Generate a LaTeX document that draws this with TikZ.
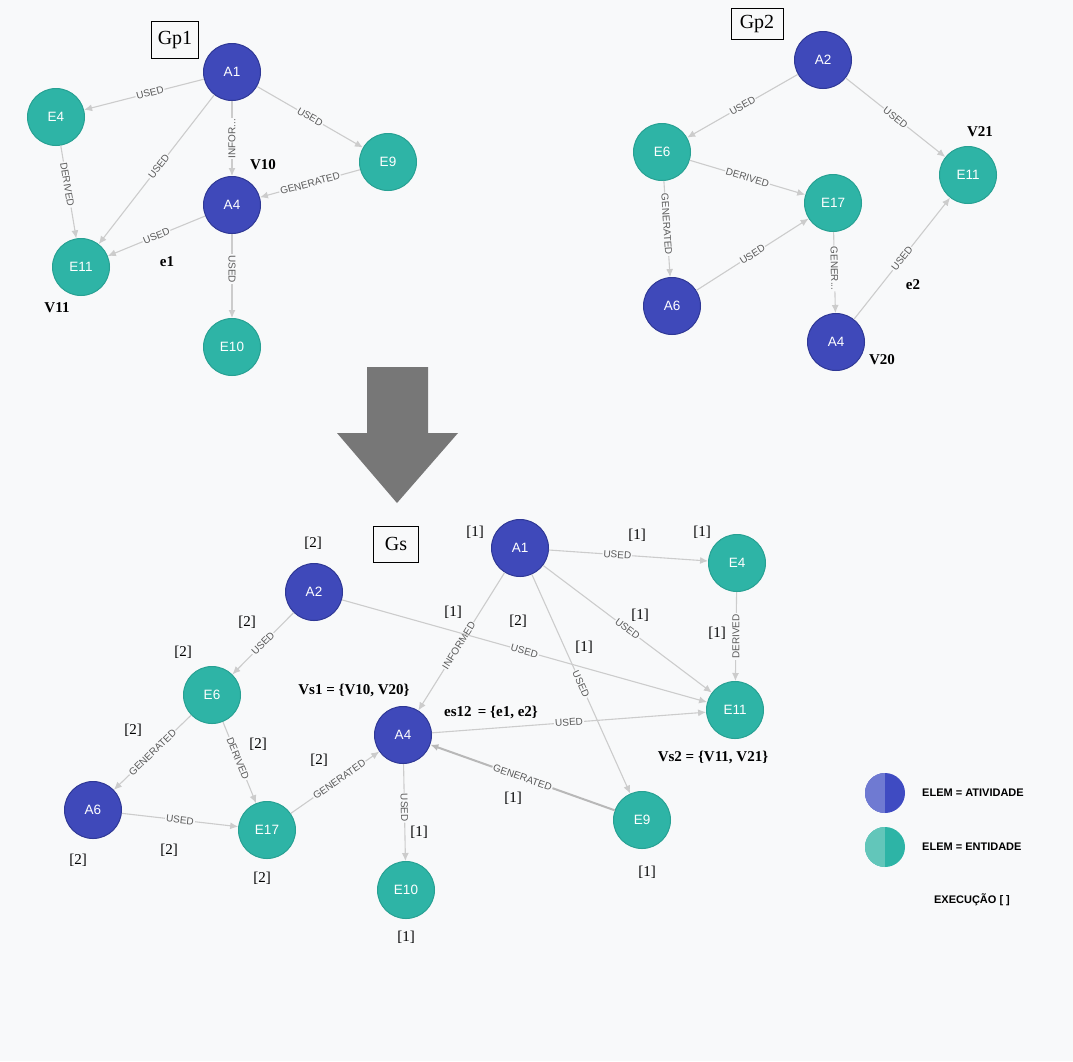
\documentclass[tikz,border=0pt]{standalone}
\usepackage{fontspec}
\setmainfont{Liberation Serif}
\setsansfont{Liberation Sans}
\usetikzlibrary{arrows.meta}
\definecolor{bg}{HTML}{F8F9FA}
\definecolor{actfill}{HTML}{3F49BA}
\definecolor{actline}{HTML}{2F3896}
\definecolor{entfill}{HTML}{2EB4A6}
\definecolor{entline}{HTML}{27A193}
\definecolor{edgecol}{HTML}{CCCCCC}
\definecolor{lblcol}{HTML}{5A5A5A}
\definecolor{bigarrow}{HTML}{777777}
\definecolor{actL}{HTML}{6F7AD2}
\definecolor{actR}{HTML}{3F4BC2}
\definecolor{entL}{HTML}{62C6BA}
\definecolor{entR}{HTML}{2DB4A6}
\begin{document}
\begin{tikzpicture}[x=1pt,y=-1pt,
  act/.style={circle, fill=actfill, draw=actline, line width=1pt, minimum size=57pt,
    inner sep=0pt, text=white, font=\sffamily\fontsize{13.5}{13.5}\selectfont},
  ent/.style={act, fill=entfill, draw=entline},
  rel/.style={draw=edgecol, line width=1.1pt, -{Latex[length=8pt,width=7pt]}},
  lbl/.style={fill=bg, inner sep=1pt, text=lblcol, font=\sffamily\fontsize{10}{10}\selectfont, sloped},
  vlbl/.style={fill=bg, inner sep=1pt, text=lblcol, font=\sffamily\fontsize{10}{10}\selectfont},
  cnt/.style={inner sep=0pt, font=\fontsize{15}{15}\selectfont},
  ann/.style={inner sep=0pt, font=\bfseries\fontsize{15}{15}\selectfont},
  tag/.style={draw, line width=0.8pt, inner sep=0pt, font=\fontsize{20}{20}\selectfont},
  legtxt/.style={inner sep=0pt, anchor=west, font=\sffamily\bfseries\fontsize{11}{11}\selectfont},
  legdot/.style={circle, minimum size=40pt, inner sep=0pt},
]
% canvas
\fill[bg] (0,0) rectangle (1073,1061);
\path[use as bounding box] (0,0) rectangle (1073,1061);

% ---------- Gp1 ----------
\node[tag, minimum width=47pt, minimum height=37pt] (gp1) at (175,40) {Gp1};
\node[act] (a1) at (232,72) {A1};
\node[ent] (a_e4) at (56,117) {E4};
\node[ent] (a_e9) at (388,162) {E9};
\node[act] (a_a4) at (232,205) {A4};
\node[ent] (a_e11) at (81,267) {E11};
\node[ent] (a_e10) at (232,347) {E10};

\draw[rel] (a1) -- node[lbl, pos=0.45] {USED} (a_e4);
\draw[rel] (a1) -- node[lbl, pos=0.48] {USED} (a_e11);
\draw[rel] (a1) -- node[vlbl, rotate=90] {INFOR...} (a_a4);
\draw[rel] (a1) -- node[lbl] {USED} (a_e9);
\draw[rel] (a_e9) -- node[lbl] {GENERATED} (a_a4);
\draw[rel] (a_a4) -- node[lbl] {USED} (a_e11);
\draw[rel] (a_a4) -- node[vlbl, rotate=-90, pos=0.42] {USED} (a_e10);
\draw[rel] (a_e4) -- node[lbl, pos=0.42] {DERIVED} (a_e11);

\node[ann] (v10) at (263,165) {V10};
\node[ann] (e1) at (167,262) {e1};
\node[ann] (v11) at (57,308) {V11};

% ---------- Gp2 ----------
\node[tag, minimum width=52pt, minimum height=31pt] (gp2) at (757,24) {Gp2};
\node[act] (b_a2) at (823,60) {A2};
\node[ent] (b_e6) at (662,152) {E6};
\node[ent] (b_e11) at (968,175) {E11};
\node[ent] (b_e17) at (833,203) {E17};
\node[act] (b_a6) at (672,306) {A6};
\node[act] (b_a4) at (836,342) {A4};

\draw[rel] (b_a2) -- node[lbl] {USED} (b_e6);
\draw[rel] (b_a2) -- node[lbl] {USED} (b_e11);
\draw[rel] (b_e6) -- node[lbl] {DERIVED} (b_e17);
\draw[rel] (b_e6) -- node[lbl, pos=0.45] {GENERATED} (b_a6);
\draw[rel] (b_a6) -- node[lbl] {USED} (b_e17);
\draw[rel] (b_e17) -- node[lbl, pos=0.45] {GENER...} (b_a4);
\draw[rel] (b_a4) -- node[lbl] {USED} (b_e11);

\node[ann] (v21) at (980,132) {V21};
\node[ann] (e2) at (913,285) {e2};
\node[ann] (v20) at (882,360) {V20};

% ---------- merge arrow ----------
\fill[bigarrow] (367,367) -- (428,367) -- (428,433) -- (458,433) -- (397,503)
  -- (337,433) -- (367,433) -- cycle;

% ---------- Gs ----------
\node[tag, minimum width=45pt, minimum height=36pt] (gs) at (396,544) {Gs};
\node[act] (s_a1) at (520,548) {A1};
\node[ent] (s_e4) at (737,563) {E4};
\node[act] (s_a2) at (314,592) {A2};
\node[ent] (s_e6) at (212,695) {E6};
\node[ent] (s_e11) at (735,710) {E11};
\node[act] (s_a4) at (403,735) {A4};
\node[act] (s_a6) at (93,810) {A6};
\node[ent] (s_e9) at (642,820) {E9};
\node[ent] (s_e17) at (267,830) {E17};
\node[ent] (s_e10) at (406,890) {E10};

\draw[rel] (s_a1) -- node[lbl, pos=0.43] {USED} (s_e4);
\draw[rel] (s_a1) -- node[lbl, pos=0.53] {INFORMED} (s_a4);
\draw[rel] (s_a1) -- node[lbl] {USED} (s_e11);
\draw[rel] (s_a1) -- node[lbl] {USED} (s_e9);
\draw[rel] (s_a2) -- node[lbl] {USED} (s_e11);
\draw[rel] (s_a2) -- node[lbl] {USED} (s_e6);
\draw[rel] (s_e4) -- node[vlbl, rotate=90] {DERIVED} (s_e11);
\draw[rel] (s_a4) -- node[lbl] {USED} (s_e11);
\draw[rel, line width=2pt, draw=edgecol!90!black] (s_e9) -- node[lbl] {GENERATED} (s_a4);
\draw[rel] (s_a4) -- node[lbl, pos=0.45] {USED} (s_e10);
\draw[rel] (s_e6) -- node[lbl] {GENERATED} (s_a6);
\draw[rel] (s_e6) -- node[lbl, pos=0.45] {DERIVED} (s_e17);
\draw[rel] (s_a6) -- node[lbl] {USED} (s_e17);
\draw[rel] (s_e17) -- node[lbl, pos=0.55] {GENERATED} (s_a4);

% execution counters
\node[cnt] (c1)  at (313,543) {[2]};
\node[cnt] (c2)  at (247,622) {[2]};
\node[cnt] (c3)  at (183,652) {[2]};
\node[cnt] (c4)  at (133,730) {[2]};
\node[cnt] (c5)  at (258,744) {[2]};
\node[cnt] (c6)  at (319,760) {[2]};
\node[cnt] (c7)  at (78,860)  {[2]};
\node[cnt] (c8)  at (169,850) {[2]};
\node[cnt] (c9)  at (262,878) {[2]};
\node[cnt] (c10) at (419,832) {[1]};
\node[cnt] (c11) at (406,937) {[1]};
\node[cnt] (c12) at (475,532) {[1]};
\node[cnt] (c13) at (637,535) {[1]};
\node[cnt] (c14) at (702,532) {[1]};
\node[cnt] (c15) at (453,612) {[1]};
\node[cnt] (c16) at (518,621) {[2]};
\node[cnt] (c17) at (584,647) {[1]};
\node[cnt] (c18) at (640,615) {[1]};
\node[cnt] (c19) at (717,633) {[1]};
\node[cnt] (c20) at (513,798) {[1]};
\node[cnt] (c21) at (647,872) {[1]};

\node[ann] (vs1) at (354,690) {Vs1 = \{V10, V20\}};
\node[ann] (es12) at (491,712) {es12 \,= \{e1, e2\}};
\node[ann] (vs2) at (713,757) {Vs2 = \{V11, V21\}};

% ---------- legend ----------
\node[legdot, fill=actR, path picture={
    \fill[actL] (path picture bounding box.south west) rectangle (path picture bounding box.north);}]
  (legact) at (885,793) {};
\node[legdot, fill=entR, path picture={
    \fill[entL] (path picture bounding box.south west) rectangle (path picture bounding box.north);}]
  (legent) at (885,847) {};
\node[legtxt] (legacttxt) at (922,793) {ELEM = ATIVIDADE};
\node[legtxt] (legenttxt) at (922,847) {ELEM = ENTIDADE};
\node[legtxt, anchor=center] (legexec) at (972,900) {EXECUÇÃO [ ]};
\end{tikzpicture}
\end{document}
